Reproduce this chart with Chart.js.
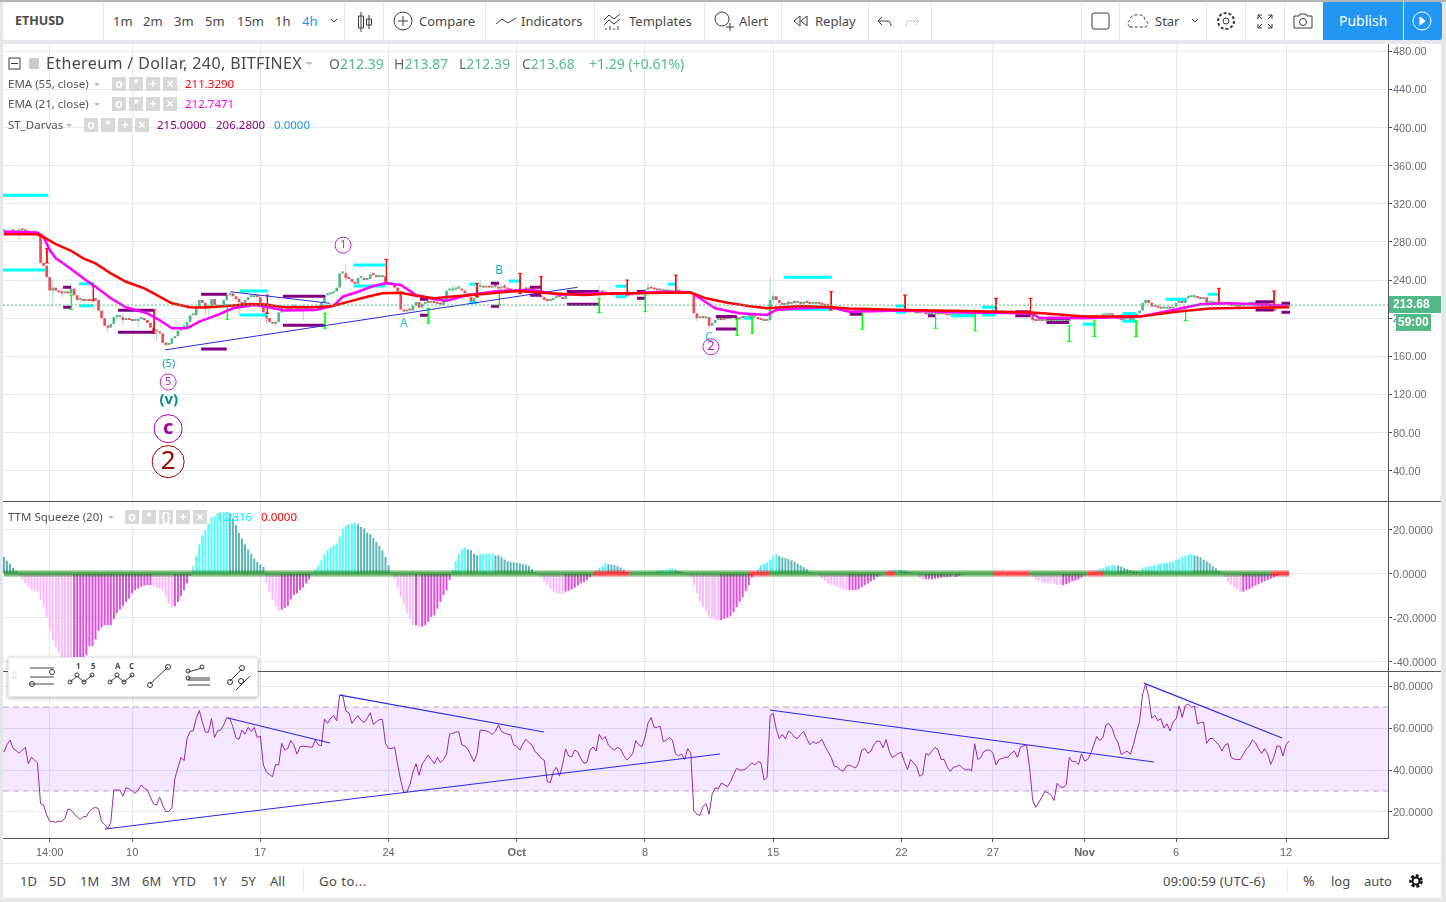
<!DOCTYPE html>
<html>
<head>
<meta charset="utf-8">
<title>ETHUSD</title>
<script src="https://cdn.jsdelivr.net/npm/chart.js@4"></script>
<style>
html,body { margin:0; padding:0; width:1446px; height:902px; overflow:hidden; background:#e4e8ec; font-family:"Noto Sans",sans-serif; }
canvas { position:absolute; left:3px; }
.box { position:absolute; background:#fff; }
.t { position:absolute; white-space:nowrap; line-height:16px; font-size:13px; color:#4a4a4a; }
.s { font-size:11.5px; color:#555; }
.sep { position:absolute; width:1px; background:#e6e9ec; }
.hl { position:absolute; left:3px; width:1438px; height:1px; background:#50535e; }
.g { color:#53b987; font-size:14px; }
.btn { position:absolute; width:14px; height:14px; background:#d8d8d8; color:#fff; font:bold 12px/14px "Liberation Sans"; text-align:center; }
</style>
</head>
<body>
<div class="box" style="left:3px;top:2px;width:1320px;height:38px;border-radius:3px 0 0 3px"></div>
<div class="box" style="left:3px;top:44px;width:1438px;height:819px"></div>
<div class="box" style="left:3px;top:864px;width:1438px;height:34px"></div>
<div style="position:absolute;left:0;top:0;width:1446px;height:2px;background:#b5b5b5"></div>

<canvas id="pricePane" width="1438" height="457" style="top:44px;width:1438px;height:457px"></canvas>
<canvas id="squeezePane" width="1438" height="169" style="top:502px;width:1438px;height:169px"></canvas>
<canvas id="rsiPane" width="1438" height="191" style="top:672px;width:1438px;height:191px"></canvas>

<div class="hl" style="top:501px"></div>
<div class="hl" style="top:671px"></div>

<!-- top toolbar -->
<div class="t" style="left:15px;top:13px;font-weight:700;font-size:12.5px">ETHUSD</div>
<div class="sep" style="left:103px;top:2px;height:38px"></div>
<div class="t" style="left:113px;top:13px">1m</div>
<div class="t" style="left:143px;top:13px">2m</div>
<div class="t" style="left:174px;top:13px">3m</div>
<div class="t" style="left:205px;top:13px">5m</div>
<div class="t" style="left:237px;top:13px">15m</div>
<div class="t" style="left:275px;top:13px">1h</div>
<div class="t" style="left:302px;top:13px;color:#2196f3">4h</div>
<div class="sep" style="left:344px;top:2px;height:38px"></div>
<div class="sep" style="left:383px;top:2px;height:38px"></div>
<div class="t" style="left:419px;top:13px">Compare</div>
<div class="sep" style="left:485px;top:2px;height:38px"></div>
<div class="t" style="left:521px;top:13px">Indicators</div>
<div class="sep" style="left:594px;top:2px;height:38px"></div>
<div class="t" style="left:629px;top:13px">Templates</div>
<div class="sep" style="left:704px;top:2px;height:38px"></div>
<div class="t" style="left:739px;top:13px">Alert</div>
<div class="sep" style="left:781px;top:2px;height:38px"></div>
<div class="t" style="left:815px;top:13px">Replay</div>
<div class="sep" style="left:868px;top:2px;height:38px"></div>
<div class="sep" style="left:931px;top:2px;height:38px"></div>
<div class="sep" style="left:1081px;top:2px;height:38px"></div>
<div class="sep" style="left:1119px;top:2px;height:38px"></div>
<div class="t" style="left:1155px;top:13px">Star</div>
<div class="sep" style="left:1206px;top:2px;height:38px"></div>
<div class="sep" style="left:1245px;top:2px;height:38px"></div>
<div class="sep" style="left:1284px;top:2px;height:38px"></div>
<div style="position:absolute;left:1323px;top:2px;width:80px;height:38px;background:#2196f3"></div>
<div style="position:absolute;left:1404px;top:2px;width:38px;height:38px;background:#2196f3;border-radius:0 3px 3px 0"></div>
<div class="t" style="left:1339px;top:13px;color:#fff;font-size:14px">Publish</div>

<!-- legend -->
<div class="t" style="left:46px;top:55px;font-size:16px;color:#4a4a4a;letter-spacing:.38px">Ethereum / Dollar, 240, BITFINEX</div>
<div class="t g" style="left:329px;top:56px"><span style="color:#666">O</span>212.39</div>
<div class="t g" style="left:394px;top:56px"><span style="color:#666">H</span>213.87</div>
<div class="t g" style="left:459px;top:56px"><span style="color:#666">L</span>212.39</div>
<div class="t g" style="left:522px;top:56px"><span style="color:#666">C</span>213.68</div>
<div class="t g" style="left:589px;top:56px">+1.29 (+0.61%)</div>
<div class="t s" style="left:8px;top:76px">EMA (55, close)</div>
<div class="t s" style="left:185px;top:76px;color:#f00">211.3290</div>
<div class="t s" style="left:8px;top:96px">EMA (21, close)</div>
<div class="t s" style="left:185px;top:96px;color:#f0f">212.7471</div>
<div class="t s" style="left:8px;top:117px">ST_Darvas</div>
<div class="t s" style="left:157px;top:117px;color:#800080">215.0000</div>
<div class="t s" style="left:216px;top:117px;color:#800080">206.2800</div>
<div class="t s" style="left:274px;top:117px;color:#2196f3">0.0000</div>
<div class="t s" style="left:8px;top:509px">TTM Squeeze (20)</div>
<div class="t s" style="left:216px;top:509px;color:#0ff">1.2816</div>
<div class="t s" style="left:261px;top:509px;color:#f00">0.0000</div>
<div class="btn" style="left:112px;top:77px">o</div><div class="btn" style="left:129px;top:77px">*</div><div class="btn" style="left:146px;top:77px">+</div><div class="btn" style="left:163px;top:77px">×</div>
<div class="btn" style="left:112px;top:97px">o</div><div class="btn" style="left:129px;top:97px">*</div><div class="btn" style="left:146px;top:97px">+</div><div class="btn" style="left:163px;top:97px">×</div>
<div class="btn" style="left:84px;top:118px">o</div><div class="btn" style="left:101px;top:118px">*</div><div class="btn" style="left:118px;top:118px">+</div><div class="btn" style="left:135px;top:118px">×</div>
<div class="btn" style="left:125px;top:510px">o</div><div class="btn" style="left:142px;top:510px">*</div><div class="btn" style="left:159px;top:510px">{}</div><div class="btn" style="left:176px;top:510px">+</div><div class="btn" style="left:193px;top:510px">×</div>

<!-- last price tags -->
<div style="position:absolute;left:1389px;top:296px;width:52px;height:17px;background:#53b987"></div>
<div class="t" style="left:1393px;top:296px;color:#fff;font:bold 12px/17px 'Liberation Sans'">213.68</div>
<div style="position:absolute;left:1396px;top:314px;width:35px;height:17px;background:#53b987"></div>
<div class="t" style="left:1398px;top:314px;color:#fff;font:bold 12px/17px 'Liberation Sans'">59:00</div>

<!-- floating drawing toolbar -->
<div class="box" style="left:8px;top:657px;width:248px;height:38px;box-shadow:0 1px 4px rgba(0,0,0,.3);border:1px solid #e6e9ec"></div>

<!-- bottom toolbar -->
<div class="t" style="left:20px;top:873px">1D</div>
<div class="t" style="left:49px;top:873px">5D</div>
<div class="t" style="left:80px;top:873px">1M</div>
<div class="t" style="left:111px;top:873px">3M</div>
<div class="t" style="left:142px;top:873px">6M</div>
<div class="t" style="left:172px;top:873px">YTD</div>
<div class="t" style="left:212px;top:873px">1Y</div>
<div class="t" style="left:241px;top:873px">5Y</div>
<div class="t" style="left:270px;top:873px">All</div>
<div class="sep" style="left:303px;top:869px;height:24px"></div>
<div class="t" style="left:319px;top:873px;letter-spacing:.5px">Go to...</div>
<div class="t" style="left:1163px;top:873px;letter-spacing:.2px">09:00:59 (UTC-6)</div>
<div class="sep" style="left:1287px;top:869px;height:24px"></div>
<div class="t" style="left:1303px;top:873px;font-size:14px">%</div>
<div class="t" style="left:1331px;top:873px">log</div>
<div class="t" style="left:1364px;top:873px">auto</div>

<!-- icons -->
<svg width="1446" height="902" style="position:absolute;left:0;top:0;pointer-events:none" fill="none" stroke="#3a3a3a" stroke-width="1">
  <path d="M331 19l3 3 3-3M1192 19l3 3 3-3"/>
  <path d="M361 12v20M358.5 16h5v12h-5zM369 15v14M366.5 19h5v6h-5z"/>
  <circle cx="403" cy="21" r="9"/><path d="M398 21h10M403 16v10"/>
  <path d="M496 24l6-5 6 4 8-5"/>
  <path d="M604 20l5-5 5 4 6-5M604 25l5-5 5 4 6-5M606 30v-2M610 30v-4M614 30v-2M618 30v-4"/>
  <circle cx="722" cy="19" r="7"/><path d="M726 27h8M730 23v8"/>
  <path d="M800 16l-6 5 6 5zM807 16l-6 5 6 5z"/>
  <path d="M878 21h9q4 0 4 5M878 21l4-4M878 21l4 4"/><path d="M919 21h-9q-4 0-4 5M919 21l-4-4M919 21l-4 4" stroke="#c8c8c8"/>
  <rect x="1092" y="13" width="17" height="16" rx="2"/>
  <path d="M1130 27q-4-4 0-7q1-6 8-5q6-1 7 5q5 3 1 7z" stroke-dasharray="3 2"/>
  <circle cx="1226" cy="21" r="3"/><circle cx="1226" cy="21" r="8" stroke-dasharray="3 2" stroke-width="2"/>
  <path d="M1258 15l4 4M1258 15h4M1258 15v4M1272 15l-4 4M1272 15h-4M1272 15v4M1258 28l4-4M1258 28h4M1258 28v-4M1272 28l-4-4M1272 28h-4M1272 28v-4"/>
  <path d="M1294 16h5l1-2h6l1 2h5v12h-18z"/><circle cx="1303" cy="22" r="3.5"/>
  <circle cx="1422" cy="21" r="9" stroke="#fff"/><path d="M1420 17l5 4-5 4z" fill="#fff" stroke="#fff"/>
  <rect x="9" y="58" width="11" height="11"/><path d="M11 63.5h7"/>
  <path d="M29 58h10v11h-10z" fill="#c8cbd0" stroke="none"/>
  <path d="M305 62l4 3 4-3z M94 83l3 3 3-3z M94 103l3 3 3-3z M66 124l3 3 3-3z M108 516l3 3 3-3z" fill="#bbb" stroke="none"/>
  <path d="M16 671v3M16 676v3M13 671v3M13 676v3" stroke="#ccc"/>
  <path d="M30 668h24M30 677h24M30 684h24" stroke="#444"/>
  <circle cx="52" cy="672" r="2.5"/><circle cx="32" cy="684" r="2.5"/>
  <path d="M70 682l7-6 7 6 8-7"/><circle cx="70" cy="682" r="2"/><circle cx="77" cy="675" r="2"/><circle cx="84" cy="682" r="2"/><circle cx="92" cy="675" r="2"/>
  <path d="M110 682l7-6 7 6 8-7"/><circle cx="110" cy="682" r="2"/><circle cx="117" cy="675" r="2"/><circle cx="124" cy="682" r="2"/><circle cx="132" cy="675" r="2"/>
  <path d="M150 684l18-17"/><circle cx="150" cy="685" r="2.5"/><circle cx="168" cy="667" r="2.5"/>
  <path d="M188 672l14-4M188 680h22M188 685h22M188 678h22"/><circle cx="188" cy="671" r="2"/><circle cx="202" cy="667" r="2"/><circle cx="188" cy="678" r="2"/>
  <path d="M230 681l12-12M236 690l14-14"/><circle cx="230" cy="682" r="2.5"/><circle cx="242" cy="668" r="2.5"/><circle cx="241" cy="681" r="2.5"/>
  <circle cx="1416" cy="881" r="3.5" stroke="#111" stroke-width="2"/><circle cx="1416" cy="881" r="5.5" stroke="#111" stroke-width="2.5" stroke-dasharray="3 2"/>
</svg>
<div class="t" style="left:76px;top:661px;font-size:8px;line-height:9px;font-weight:700">1</div>
<div class="t" style="left:91px;top:661px;font-size:8px;line-height:9px;font-weight:700">5</div>
<div class="t" style="left:115px;top:661px;font-size:8px;line-height:9px;font-weight:700">A</div>
<div class="t" style="left:129px;top:661px;font-size:8px;line-height:9px;font-weight:700">C</div>

<script>
// x axis is bar number, one bar = 4h
var xMin = -0.3, xMax = 453.4;
var xTicks = [15, 42, 84, 126, 168, 210, 252, 294, 324, 354, 384, 420];
var xLabels = ['14:00', '10', '17', '24', 'Oct', '8', '15', '22', '27', 'Nov', '6', '12'];
var priceTicks = [480, 440, 400, 360, 320, 280, 240, 200, 160, 120, 80, 40];
var squeezeTicks = [20, 0, -20, -40];
var rsiTicks = [80, 60, 40, 20];

// closes (rows of ten bars)
var closes = [
  291,290,292,291,290,293,292,291,290,289,
  290,288,258,255,243,229,232,229,227,226,
  228,226,231,224,219,220,218,219,218,220,
  219,208,200,192,190,194,201,201,201,198,
  200,198,197,197,199,199,198,195,190,186,
  186,184,174,172,173,179,181,187,190,190,
  196,203,203,212,219,216,211,213,220,214,
  211,214,219,224,226,223,220,217,214,219,
  222,222,224,222,216,206,200,196,194,196,
  206,211,211,208,212,213,209,211,212,208,
  210,212,211,212,216,224,225,226,228,232,
  247,247,242,241,238,236,242,242,240,241,
  246,245,243,243,244,237,236,236,232,228,
  209,207,209,208,213,217,211,215,217,216,
  217,216,215,214,218,229,229,230,231,231,
  229,226,222,217,221,233,233,232,233,232,
  234,233,231,233,232,230,229,227,229,229,
  231,230,231,229,227,224,222,219,218,219,
  221,223,222,220,225,225,224,226,225,224,
  224,225,224,226,225,228,227,226,225,224,
  225,224,225,226,225,224,225,226,225,228,
  230,232,231,230,229,229,228,228,229,227,
  228,228,227,226,226,226,205,200,201,200,
  201,192,195,198,199,198,200,199,200,200,
  199,201,200,201,202,201,201,199,198,197,
  198,219,223,219,216,214,216,215,217,216,
  216,215,217,216,215,215,216,215,214,213,
  213,211,209,209,208,207,207,206,207,208,
  209,208,208,209,208,209,208,207,208,207,
  208,208,207,208,207,207,206,206,207,205,
  206,206,204,204,205,205,204,205,204,203,
  203,203,204,203,202,203,204,203,204,205,
  206,206,205,207,207,205,206,206,205,206,
  206,205,206,206,205,205,204,198,197,198,
  197,197,198,197,197,197,197,198,197,201,
  201,200,201,202,201,201,202,201,201,202,
  203,203,204,203,200,199,198,199,199,198,
  202,205,208,216,219,216,212,212,211,210,
  210,211,210,212,216,218,216,221,222,222,
  222,221,220,222,216,216,216,215,216,215,
  216,215,213,213,212,213,214,215,216,215,
  215,214,214,215,214,212,213,214,213,213,
  212.39,213.68
];
// only the wicks that can be made out
var wickBars  = [2,5,10,16,19,22,25,34,37,39,44,50,53,59,66,67,73,77,86,89,98,112,120,147,149,156,161,164,171,178,195,211,227,231,251,252,257,318,337,358,360,366,374,388,390,415,419];
var wickHighs = [295,294,291,240,233,236,222,193,204,204,201,188,175,195,216,214,227,222,206,198,214,256,249,235,235,240,238,236,233,220,234,237,205,201,243.5,226,219,212,204,204,206,200,220,225,225,216,217];
var wickLows  = [289,282,286,212,222,222,216,186,197,193,190,176,170,188,203,203,218,203,195,192,197,240,243,228,230,231,231,230,228,217,224,229,197,189,196,216,214,203,196,199,201,196,214,220,220,209,210];

var ema55Bars = [0,11,13,17,22,26,30,35,40,46,51,55,61,66,73,81,86,92,102,108,113,119,124,130,135,141,146,157,168,179,190,201,212,225,230,237,244,250,261,271,277,295,315,337,354,372,384,395,408,421];
var ema55 = [288,288,285,277.7,270.7,262.7,257.5,247,238.2,231.3,222.5,215.6,211.4,211.2,212.8,214.9,214,211.4,211.4,213,217.3,222.5,226,226.7,223.6,220.8,222.5,225.3,228.5,226,224.3,226,226.5,227,220.8,216.2,212.8,210.4,212.8,211.4,210,208.6,207.5,205.8,201.6,201.6,206.8,210,211,211.33];
var ema21Bars = [0,11,13,15,17,21,26,30,35,40,47,51,55,60,64,70,75,82,86,92,102,108,111,116,121,125,130,135,141,145,152,162,173,182,195,206,217,225,228,233,241,250,253,261,271,277,295,315,337,339,354,372,383,392,402,421];
var ema21 = [290.6,290,285.3,271.4,262.7,254,241.8,233,220.8,211.4,205,198,189.4,189.5,196.3,203.4,210.4,213.8,212,207.9,208.6,212.8,222.5,227.7,233.7,236.5,234.8,224.3,219.8,218.3,224.3,228.5,229.5,224.6,226,226,227.7,227,220.8,210.4,205.1,203.4,208.6,210.4,211.4,206.8,207.9,205.8,205.1,200.5,199.9,201.6,208.6,214.5,215.6,212.75];
var lastClose = 213.68;

// Darvas boxes: start bar, end bar, price
var cyanBoxes = [[-0.3,14.5,329],[-0.3,13.5,250.5],[24.6,29.5,236],[24.6,29.5,213],[77.3,86.5,228.5],[77.3,86.5,203.4],[114.5,125,255.7],[114.5,125,233.8],[152.4,155,235.5],[152.4,155,216.2],[165.4,169,239],[200.5,204,233.4],[200.5,204,222.5],[217.5,220.2,235.5],[255.5,271.2,242.8],[255.5,271.2,209.3],[242.4,245.4,200],[292.2,295.5,212.8],[292.2,295.5,206.2],[310.2,318.2,202.6],[320.4,325,211.4],[320.4,325,203.4],[353.4,357.2,193.6],[366.4,370.8,205],[366.4,370.8,196.7],[380.5,387,219.8],[394.4,398,225]];
var purpleBoxes = [[19.4,22,232.4],[19.4,22,211.4],[37.4,49.2,208.3],[37.4,49.2,185.2],[64.6,73,225],[64.6,73,167.7],[91.4,105.2,223],[91.4,105.2,192.6],[136.3,139,219.8],[136.3,139,203],[159.5,162.2,236.5],[159.5,162.2,212.4],[172.3,176,232.3],[172.3,176,224],[184.4,194.9,228],[184.4,194.9,214.5],[207.4,210,228],[207.4,210,220.8],[233.2,240.1,201.6],[233.2,240.1,188.7],[277.1,281.2,204],[302.7,305.2,202.6],[331.3,336.3,206.8],[331.3,336.3,202.6],[341.5,349,199.9],[341.5,349,195.3],[410,416,217.3],[410,416,208.6],[418.5,421.3,215.6],[418.5,421.3,206.28]];
// breakout ticks: bar, top, bottom
var redTicks = [[14.1,273,258],[29.3,233.7,218.3],[49.2,208.6,184.2],[86.3,224.3,205.1],[125.3,261.7,236.5],[155,236.5,222.5],[169.1,247,226],[176,243.5,227.7],[204.2,240,224.3],[220.1,245.2,227.7],[271,227.7,208.6],[295.2,224.3,208.6],[325,220.8,205.1],[336.3,220.8,204],[398,231.3,215.6],[416.1,228.5,208.6]];
var greenTicks = [[22.1,224.3,209.3],[73.2,213.8,198.8],[105.2,205.1,189.4],[139,210.4,194.7],[162.3,227.7,213.8],[195,220.8,205.8],[210.1,224.3,206.8],[240.2,198.8,182],[245.1,200.5,184.2],[281.2,208.6,188.4],[305.2,206.8,189.4],[318.2,206.8,186.6],[349,191.8,175.4],[357.2,197,180.6],[370.9,197,180.6],[387.1,212,197.4]];
// drawn trend lines: bar, value, bar, value
var priceTrends = [[52.8,166.7,187.9,232.4],[74.1,227.7,106.8,215.6]];
var rsiTrends = [[33.1,11.9,234.6,47.6],[73.4,64.8,106.8,52.9],[110.1,75.7,176.9,58.1],[250.9,68.6,376.7,43.8],[373.4,81.4,418.7,55.2]];
// wave labels: bar, price, text, colour, font px, circle radius
var waveLabels = [
  [111.1,276.6,'1','#ab2fc0',11,8],
  [131,194,'A','#26c6c6',12,0],
  [162.2,249.4,'B','#12b5b5',12,0],
  [231,180,'C','#26c6c6',12,0],
  [231.6,170,'2','#c020c0',13,8],
  [54,152,'(5)','#12a5a5',11,0],
  [53.8,133,'5','#ab2fc0',11,8],
  [54,114.4,'(v)','#008b8b',15,0],
  [53.8,84,'c','#a000a0',20,14],
  [53.8,49.4,'2','#a00000',26,16]
];

var squeeze = [
  7.6,5.8,4.5,2.6,1,-1,-2.7,-4.5,-5.8,-7.3,
  -7.9,-8.3,-12,-15,-19.7,-25.8,-30.3,-33.3,-36,-38,
  -40,-41,-42,-42,-42,-41,-40,-37,-33,-33,
  -30,-26,-24.5,-23.5,-23.5,-23.5,-20.8,-18,-16.4,-14.8,
  -12.9,-11.4,-9,-7.6,-6.8,-6,-5.5,-5.2,-5.2,-5.8,
  -6.4,-6.8,-7.9,-10.6,-13.6,-15.5,-14.8,-12.9,-10.3,-7.6,
  -4.5,-1,3.3,7.9,13.2,17.4,19.7,22.7,25.5,26,
  27.3,27.6,28,28,27.3,25,22,18.5,15.9,13.2,
  10.9,9,6.8,5.3,4.2,3,-4.2,-8.3,-12,-14.8,
  -17,-16.4,-15.5,-14.8,-11.8,-9.8,-9,-7.6,-6.4,-4.5,
  -2.6,0,1.8,3.8,6,8.8,10.6,11.8,12.9,13.6,
  16.7,20,21.5,22.4,22.7,22.9,22.4,21.2,20.5,18.6,
  17.9,16.2,14.4,12.6,10.6,7.6,3.8,0.5,-2.7,-6.8,
  -10.6,-13.9,-18.2,-20.5,-23.5,-23.5,-24.2,-24.2,-23.5,-22,
  -19.7,-19,-16,-12.9,-9.8,-7.6,-3,1.5,5.6,9,
  11,11.8,10.9,10.6,9,8.3,8.8,8.8,9,9,
  9,8.3,8.2,7.4,6.4,5.6,5.3,5.1,4.9,4.6,
  4.3,4,3.4,2,0.5,-0.5,-1.9,-3.6,-5.3,-7,
  -8.3,-8.8,-9.1,-9.3,-8.2,-7.8,-7.2,-6.4,-5.5,-4.4,
  -3.9,-2.9,-1.7,-0.4,1.5,2.4,3.4,4.7,4.2,4.1,
  3.8,3.3,2.7,1.8,0.8,0.3,0.3,0.2,0.3,0.5,
  0.4,0.6,0.5,0.8,1.2,1.5,1.5,1.5,2.3,2.3,
  1.8,1.2,0.8,0.3,-0.5,-1.8,-5.3,-9,-12.6,-15.2,
  -17,-19.6,-20.4,-21,-21.4,-21.2,-20.5,-20,-19.4,-17.6,
  -15.3,-12.9,-10.8,-8,-5.3,-1.8,0.5,2,3.9,4.4,
  5,6.3,8,8.7,7.9,7.3,7,6.5,6,5.3,
  4.5,3.7,2.9,2,0.8,0.3,-0.3,-0.9,-2,-3.4,
  -4.6,-5,-5.5,-6.2,-6.7,-7.3,-7.6,-7.6,-7.6,-7.6,
  -7.2,-6.2,-5.3,-4.5,-3.6,-2.8,-1.5,-0.8,-0.2,0.6,
  1.5,1.8,1.8,1.8,1.7,1.2,0.9,0.6,0.3,-0.4,
  -2,-2.6,-2.6,-2.6,-2.6,-2.3,-2,-1.9,-1.7,-1.6,
  -1.5,-1.6,-1.6,-1,-0.6,0.3,0.2,-0.3,-0.2,-0.4,
  0.2,0.3,0.2,-0.3,-0.2,0.2,0.3,-0.2,-0.3,0.2,
  0.3,0.2,-0.2,-0.3,-0.4,-0.3,-0.5,-1.7,-2.9,-3.5,
  -4,-4.3,-4.4,-4.5,-4.6,-5,-5.3,-5.3,-4.8,-4.1,
  -3.6,-3.2,-2.7,-1.8,-0.8,-0.3,0.3,0.9,1.4,2,
  2.4,3,3.4,3.7,3.8,3.7,3.1,2.6,2.1,1.6,
  1.2,1,0.8,2.3,2.9,3.2,3.5,3.8,4.1,4.4,
  4.7,4.8,5.1,5.6,6.2,6.7,7.6,8.1,8.5,8.9,
  8.2,7.9,7.3,6.3,5.5,4.6,3.4,2.4,1.2,0.4,
  -1.5,-3.6,-5.1,-6.4,-7.2,-8.2,-8.2,-7.6,-7,-6.3,
  -5.5,-4.8,-4.1,-3.5,-2.9,-2.4,-1.8,-1.1,-0.6,-0.3,
  -0.1,0
];
// bar ranges where the squeeze dot row turns red
var squeezeOn = [[193,205],[244,251],[289,292],[324,336],[355,360],[415,421]];

var rsi = [
  48.5,52,54.3,50.3,49.2,48,49.5,50.8,43,46,
  44.8,43.3,24,23.3,18.6,15.6,15.4,15.1,15.6,15.6,
  17,21.5,21,19.2,17.6,16.5,17.8,17.8,20.3,21.6,
  22.2,21.5,15.4,14,12.2,15,30.5,30.5,30.4,27.6,
  31.5,31,30,28.9,30.5,32.9,31.3,30.5,27,23.8,
  23.3,27,23.3,20.2,20.2,22,36,41,46,44.5,
  55,58.4,58.6,64.6,68.3,63,58,58,64.5,55.5,
  58.7,59,61.4,64.9,64.6,60.6,55.4,54.6,59,57.1,
  60.3,58.3,60.3,55.4,56.2,42.4,38.9,37.9,36.8,42.7,
  42.4,52.7,49.5,50.3,54,51.9,47.5,51.1,51.4,51.2,
  51,50.8,54.3,51.9,51.6,64.3,62.2,64.6,65.9,63.5,
  75.7,75.7,68.1,67.3,62.2,64.3,65.9,63.8,62.7,64.6,
  67.3,61.7,63,64.1,64.1,52.7,50.3,50.3,50.8,42.4,
  35,29.2,29.5,33,39,43,37.5,42.8,45,47,
  45,43,46,43.5,45,47.6,57,57.5,58,58.3,
  52,51.5,49.8,47,44,47.9,59,58.9,58.7,58,
  57,58.5,61.5,58.3,57.5,57.1,56.7,51.9,51.4,49.5,
  52.4,54.6,53,51.9,48.7,47.6,45.6,44.6,34.4,34,
  39.2,41.3,37.1,42.4,50,46.7,46.3,49.5,48.6,45.5,
  43.2,43.7,49.5,51,49,57,54.5,56,51.9,50.5,
  49.5,50.8,50,47,44.8,46,47.9,54,52,51.1,
  55.5,62.4,65,60.3,60.4,60.8,53.5,54.2,55.4,54.3,
  47.7,46.8,47.6,45,50.2,48,20.5,19,18.3,22.6,
  24,18.9,28.5,31.5,31,33.8,33,32,34.4,37.8,
  40.8,40,40,40.5,42,43.4,42.4,44,43.5,35.2,
  36.5,66,67,59.5,55,57,54.8,58.6,57.5,55.5,
  55,57,58.4,55,52,53.6,52.6,53.5,54.5,51.2,
  48.7,46,41.9,41.5,40,39.5,42,42.3,41.6,41,
  43.5,49.5,50.2,48,49,52,53.8,53.6,50.6,54.5,
  49,46,46.8,47.9,48.4,44,40.2,45,43.5,41.6,
  37,38,47.9,47,49,50.8,49.6,45,45,41.5,
  39.3,41.3,41.6,42.3,41,40,40.4,39.5,52.5,45,
  45.9,48.8,49.4,49.5,48,42.4,45,45.5,46,46.2,
  48,49,46,50.8,51.5,51.9,41,25.7,22.2,24.5,
  27,29.7,29.2,28,25.5,33.6,32,31.7,33,46,
  44,44.2,42.6,47.7,44.3,45,47.7,52,56,54,
  55.5,61.4,62.2,60,55.5,53,47.4,48.2,49,47.5,
  52,58,63,76,81,75,64.6,66,63.5,64.5,
  60,62,58.6,63,64.4,70.5,65,70.7,71.5,69.8,
  70.5,62,62.6,62.8,52.7,55,55,53.4,52,49,
  51.9,52.6,46,45.2,45,45,47.5,50,51.5,54.4,
  53,50,47.9,50.2,47.5,42.7,46,51.4,51.4,46.7,
  52,53.8
];

var gridColor = '#e3ebf1';
var axisColor = '#50535e';
var tickFont = { family: 'Liberation Sans', size: 11 };

var xScale = function(showLabels) {
  return {
    type: 'linear', offset: false, min: xMin, max: xMax,
    afterBuildTicks: function(s) { s.ticks = xTicks.map(function(v) { return { value: v }; }); },
    afterFit: function(s) { s.paddingLeft = 0; s.paddingRight = 0; if (showLabels) s.height = 25; },
    grid: { color: gridColor, offset: false, drawTicks: showLabels, tickLength: 4, tickColor: axisColor },
    border: { display: showLabels, color: axisColor },
    ticks: {
      display: showLabels, autoSkip: false, maxRotation: 0, color: '#666', padding: 4,
      font: function(c) {
        var lab = xLabels[xTicks.indexOf(c.tick ? c.tick.value : -1)];
        return { family: 'Liberation Sans', size: 11, weight: (lab == 'Oct' || lab == 'Nov') ? 'bold' : 'normal' };
      },
      callback: function(v) { return xLabels[xTicks.indexOf(v)]; }
    }
  };
};
var yScale = function(min, max, ticks, decimals) {
  return {
    position: 'right', min: min, max: max,
    afterBuildTicks: function(s) { s.ticks = ticks.map(function(v) { return { value: v }; }); },
    afterFit: function(s) { s.width = 53; s.paddingTop = 0; s.paddingBottom = 0; },
    grid: { color: gridColor, tickLength: 4, tickColor: axisColor },
    border: { color: axisColor },
    ticks: { color: '#6a6d78', font: tickFont, padding: 1, labelOffset: 1, callback: function(v) { return v.toFixed(decimals); } }
  };
};
var baseOptions = function(x, y) {
  return {
    responsive: false, animation: false, devicePixelRatio: 1,
    layout: { padding: 0, autoPadding: false },
    elements: { point: { radius: 0 }, bar: { inflateAmount: 0 } },
    plugins: { legend: { display: false }, tooltip: { enabled: false } },
    scales: { x: x, y: y }
  };
};

// runs of separate pieces in one line dataset, broken by null points
var pieces = function(list) {
  var pts = [];
  list.forEach(function(p) { pts.push({ x: p[0], y: p[1] }, { x: p[2], y: p[3] }, { x: p[2], y: null }); });
  return pts;
};
var boxPieces = function(list) { return pieces(list.map(function(b) { return [b[0], b[2], b[1], b[2]]; })); };
var tickPieces = function(list) { return pieces(list.map(function(t) { return [t[0], t[1], t[0], t[2]]; })); };
var zip = function(xs, ys) { return xs.map(function(x, i) { return { x: x, y: ys[i] }; }); };
var lineSet = function(data, color, width, order, more) {
  return Object.assign({ type: 'line', data: data, borderColor: color, borderWidth: width, order: order, spanGaps: false, pointRadius: 0, tension: 0 }, more || {});
};

var opens = closes.map(function(c, i) { return i ? closes[i - 1] : c; });
var candleBodies = closes.map(function(c, i) { return { x: i, y: [opens[i], c] }; });
var bodyColors = closes.map(function(c, i) { return c >= opens[i] ? '#53b987' : '#eb4d5c'; });
var wicks = wickBars.map(function(b, i) { return { x: b, y: [wickLows[i], wickHighs[i]] }; });
var wickColors = wickBars.map(function(b) { return closes[b] >= opens[b] ? '#a5dcc3' : '#f5a6ae'; });

var wavePlugin = {
  id: 'waves',
  afterDatasetsDraw: function(chart) {
    var ctx = chart.ctx, sx = chart.scales.x, sy = chart.scales.y;
    waveLabels.forEach(function(w) {
      var px = sx.getPixelForValue(w[0]), py = sy.getPixelForValue(w[1]);
      ctx.save();
      ctx.fillStyle = w[3]; ctx.strokeStyle = w[3]; ctx.lineWidth = 1;
      ctx.font = (w[4] >= 15 ? 'bold ' : '') + w[4] + 'px "Noto Sans"';
      if (w[4] == 26) ctx.font = '26px "Noto Sans"';
      ctx.textAlign = 'center'; ctx.textBaseline = 'middle';
      if (w[5]) { ctx.beginPath(); ctx.arc(px, py, w[5], 0, Math.PI * 2); ctx.stroke(); }
      ctx.fillText(w[2], px, py);
      ctx.restore();
    });
  }
};

var priceChart = new Chart(document.getElementById('pricePane'), {
  type: 'bar',
  plugins: [wavePlugin],
  data: {
    datasets: [
      { data: wicks, backgroundColor: wickColors, barThickness: 1, grouped: false, order: 9 },
      { data: candleBodies, backgroundColor: bodyColors, barThickness: 2.7, minBarLength: 2, grouped: false, order: 8 },
      lineSet(boxPieces(cyanBoxes), '#00ffff', 3, 7),
      lineSet(boxPieces(purpleBoxes), '#800080', 3, 6),
      lineSet(tickPieces(redTicks), '#ff0000', 1, 5, { pointRadius: 2, pointStyle: 'line', pointBorderColor: '#ff0000', pointBorderWidth: 1 }),
      lineSet(tickPieces(greenTicks), '#00ff00', 1, 5, { pointRadius: 2, pointStyle: 'line', pointBorderColor: '#00ff00', pointBorderWidth: 1 }),
      lineSet(pieces(priceTrends), '#2a2ae6', 1, 4),
      lineSet(zip(ema21Bars, ema21), '#ff00ff', 2.5, 3),
      lineSet(zip(ema55Bars, ema55), '#ff0000', 2.5, 2),
      lineSet([{ x: xMin, y: lastClose }, { x: xMax, y: lastClose }], '#53b987', 1, 1, { borderDash: [2, 2] })
    ]
  },
  options: baseOptions(xScale(false), yScale(8.1, 487.7, priceTicks, 2))
});

var inSqueeze = function(bar) {
  return squeezeOn.some(function(r) { return bar >= r[0] && bar < r[1]; });
};
var squeezeColors = squeeze.map(function(v, i) {
  var up = i > 0 ? v >= squeeze[i - 1] : false;
  if (v >= 0) return up ? '#4dfcfc' : '#5cb8b8';
  return up ? '#dc4fdc' : '#ffb7ff';
});
var zeroRow = squeeze.map(function(v, i) { return { x: i, y: 0 }; });

var squeezeChart = new Chart(document.getElementById('squeezePane'), {
  type: 'bar',
  data: {
    datasets: [
      { data: squeeze.map(function(v, i) { return { x: i, y: v }; }), backgroundColor: squeezeColors, barThickness: 2, grouped: false, order: 3 },
      lineSet(zeroRow, 'rgba(0,128,0,.3)', 7, 2, { segment: { borderColor: function(c) { return inSqueeze(c.p0.parsed.x) ? 'rgba(255,0,0,.3)' : 'rgba(0,128,0,.3)'; } } }),
      lineSet(zeroRow, 'rgba(0,128,0,.5)', 4, 1, { segment: { borderColor: function(c) { return inSqueeze(c.p0.parsed.x) ? 'rgba(255,0,0,.6)' : 'rgba(0,128,0,.5)'; } } })
    ]
  },
  options: baseOptions(xScale(false), yScale(-44.3, 32.5, squeezeTicks, 4))
});

var rsiChart = new Chart(document.getElementById('rsiPane'), {
  type: 'line',
  data: {
    datasets: [
      lineSet([{ x: xMin, y: 70 }, { x: xMax, y: 70 }], '#b9a8c4', 1, 4, { borderDash: [6, 4], fill: { target: { value: 30 } }, backgroundColor: 'rgba(153,21,255,.1)' }),
      lineSet([{ x: xMin, y: 30 }, { x: xMax, y: 30 }], '#b9a8c4', 1, 4, { borderDash: [6, 4] }),
      lineSet(rsi.map(function(v, i) { return { x: i, y: v }; }), '#9c27b0', 1, 2),
      lineSet(pieces(rsiTrends), '#2a2ae6', 1.1, 1)
    ]
  },
  options: baseOptions(xScale(true), yScale(7.6, 86.7, rsiTicks, 4))
});
</script>
</body>
</html>
